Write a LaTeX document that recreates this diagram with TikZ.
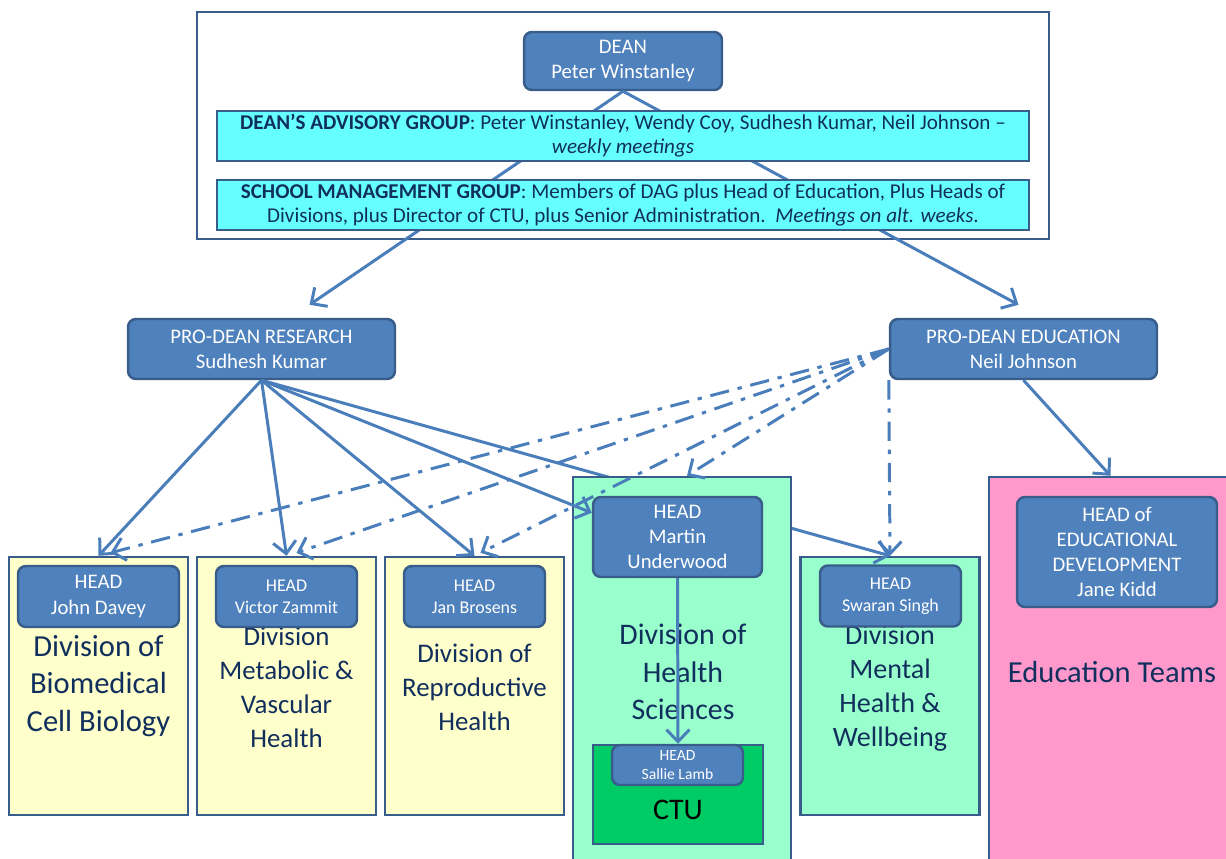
\documentclass[tikz,border=0pt]{standalone}
\usepackage{fontspec}
\setmainfont{Carlito}
\usetikzlibrary{arrows.meta, positioning, calc}
\definecolor{HeadBlue}{HTML}{4F81BD}
\definecolor{EdgeBlue}{HTML}{385D8A}
\definecolor{LinkBlue}{HTML}{4A7EBB}
\definecolor{GroupCyan}{HTML}{66FFFF}
\definecolor{DivYellow}{HTML}{FFFFCC}
\definecolor{DivGreen}{HTML}{99FFCC}
\definecolor{CtuGreen}{HTML}{00CC66}
\definecolor{TeamPink}{HTML}{FF99CC}
\definecolor{DivText}{HTML}{112F5C}
\tikzset{
    % One border width for every box
    base_width/.style={line width=1.4pt},
    % Rounded blue boxes for the dean, pro-deans and heads
    head_block/.style={
        rectangle,
        draw=EdgeBlue,
        fill=HeadBlue,
        base_width,
        rounded corners=4.5pt,
        inner sep=0pt,
        align=center,
        text=white,
        font=\fontsize{11.8}{14.4}\selectfont
    },
    small_head/.style={
        head_block,
        font=\fontsize{10.2}{12.5}\selectfont
    },
    % Cyan group boxes inside the top frame
    group_block/.style={
        rectangle,
        draw=EdgeBlue,
        fill=GroupCyan,
        base_width,
        minimum width=16.24cm,
        minimum height=1.0cm,
        inner sep=0pt,
        align=center,
        text=DivText,
        font=\fontsize{12}{13.8}\selectfont
    },
    % Square division boxes
    division/.style={
        rectangle,
        draw=EdgeBlue,
        base_width,
        minimum width=3.58cm,
        minimum height=5.16cm
    },
    div_text/.style={
        align=center,
        text=DivText,
        inner sep=0pt,
        font=\fontsize{15.3}{19.3}\selectfont
    },
    big_text/.style={
        div_text,
        font=\fontsize{17.4}{21.5}\selectfont
    },
    arrow/.style={
        ->,
        >={Straight Barb[length=2.4mm, width=4.6mm]},
        draw=LinkBlue,
        line width=1.7pt
    },
    dashdot_arrow/.style={
        arrow,
        dash pattern=on 11pt off 5pt on 2.5pt off 5pt
    }
}

\begin{document}
\begin{tikzpicture}[x=0.02cm, y=-0.02cm]
    \useasboundingbox (0,0) rectangle (1226,858);

    % --- TOP FRAME ---
    \node[rectangle, draw=EdgeBlue, base_width, minimum width=17.04cm, minimum height=4.54cm] (frame) at (623,125.5) {};
    \node[head_block, minimum width=3.96cm, minimum height=1.16cm] (dean) at (623,61) {DEAN\\Peter Winstanley};

    % --- PRO-DEANS ---
    \node[head_block, minimum width=5.34cm, minimum height=1.2cm] (research) at (261.5,349) {PRO-DEAN RESEARCH\\Sudhesh Kumar};
    \node[head_block, minimum width=5.34cm, minimum height=1.2cm] (education) at (1023.5,349) {PRO-DEAN EDUCATION\\Neil Johnson};

    \draw[arrow] (dean.south) -- ($(research.north)+(48,-13)$);
    \draw[arrow] (dean.south) -- ($(education.north)+(-5,-13)$);

    % --- GROUPS ---
    \node[group_block] (dag) at (623,136) {\textbf{DEAN’S ADVISORY GROUP}: Peter Winstanley, Wendy Coy, Sudhesh Kumar, Neil Johnson –\\\textit{weekly meetings}};
    \node[group_block] (smg) at (623,205) {\textbf{SCHOOL MANAGEMENT GROUP}: Members of DAG plus Head of Education, Plus Heads of\\Divisions, plus Director of CTU, plus Senior Administration.\ \ \textit{Meetings on alt. weeks}.};

    % --- DIVISIONS ---
    \node[division, fill=DivYellow] (div_bio) at (98.5,686) {};
    \node[division, fill=DivYellow] (div_meta) at (286.5,686) {};
    \node[division, fill=DivYellow] (div_repro) at (474.5,686) {};
    \node[division, fill=DivGreen] (div_mental) at (890,686) {};

    \node[big_text] (bio_text) at (98.5,686) {Division of\\Biomedical\\Cell Biology};
    \node[div_text] (meta_text) at (286.5,687) {Division\\Metabolic \&\\Vascular\\Health};
    \node[div_text] (repro_text) at (474.5,687) {Division of\\Reproductive\\Health};
    \node[div_text, font=\fontsize{16}{19.3}\selectfont] (mental_text) at (890,688) {Division\\Mental\\Health \&\\Wellbeing};

    \node[head_block, minimum width=3.22cm, minimum height=1.22cm] (head_bio) at (98.5,596.5) {HEAD\\John Davey};
    \node[small_head, minimum width=2.82cm, minimum height=1.22cm] (head_meta) at (286.5,596.5) {HEAD\\Victor Zammit};
    \node[small_head, minimum width=2.82cm, minimum height=1.22cm] (head_repro) at (474.5,596.5) {HEAD\\Jan Brosens};
    \node[small_head, minimum width=2.82cm, minimum height=1.22cm] (head_mental) at (890.5,596) {HEAD\\Swaran Singh};

    % Research links
    \draw[arrow] (research.south) -- (div_bio.north);
    \draw[arrow] (research.south) -- (div_meta.north);
    \draw[arrow] (research.south) -- (div_repro.north);
    \draw[arrow] (research.south) -- (div_mental.north);

    % --- HEALTH SCIENCES ---
    \node[division, fill=DivGreen, minimum width=4.36cm, minimum height=7.96cm] (div_health) at (682,676) {};
    \node[big_text, font=\fontsize{17}{21.5}\selectfont] (health_text) at (683,672) {Division of\\Health\\Sciences};
    \node[head_block, minimum width=3.38cm, minimum height=1.6cm] (head_health) at (677.5,537) {HEAD\\Martin\\Underwood};
    \node[rectangle, draw=EdgeBlue, fill=CtuGreen, base_width, minimum width=3.4cm, minimum height=1.98cm] (ctu) at (678,794.5) {};
    \node[font=\fontsize{17}{20}\selectfont] (ctu_text) at (678,810) {CTU};
    \node[head_block, minimum width=2.62cm, minimum height=0.8cm, font=\fontsize{8.9}{11.3}\selectfont] (head_ctu) at (677.5,765) {HEAD\\Sallie Lamb};

    \draw[arrow] (research.south) -- ($(head_health.north west)+(0,17)$);
    \draw[arrow] (head_health.south) -- (ctu.north);

    % --- EDUCATION TEAMS ---
    \node[division, fill=TeamPink, minimum width=5.02cm, minimum height=7.96cm] (teams) at (1114.5,676) {};
    \node[big_text] (teams_text) at (1112,672) {Education Teams};
    \node[head_block, minimum width=4.0cm, minimum height=2.2cm] (head_teams) at (1117,552) {HEAD of\\EDUCATIONAL\\DEVELOPMENT\\Jane Kidd};

    \draw[arrow] (education.south) -- ($(teams.north)+(-4,0)$);

    % Education links
    \draw[dashdot_arrow] (education.west) -- ($(div_bio.north)+(12,-3)$);
    \draw[dashdot_arrow] (education.west) -- ($(div_meta.north)+(10,-3)$);
    \draw[dashdot_arrow] (education.west) -- ($(div_repro.north)+(6,-3)$);
    \draw[dashdot_arrow] (education.west) -- ($(div_health.north)+(5,0)$);
    \draw[dashdot_arrow] (education.south west) -- (div_mental.north);

\end{tikzpicture}
\end{document}
